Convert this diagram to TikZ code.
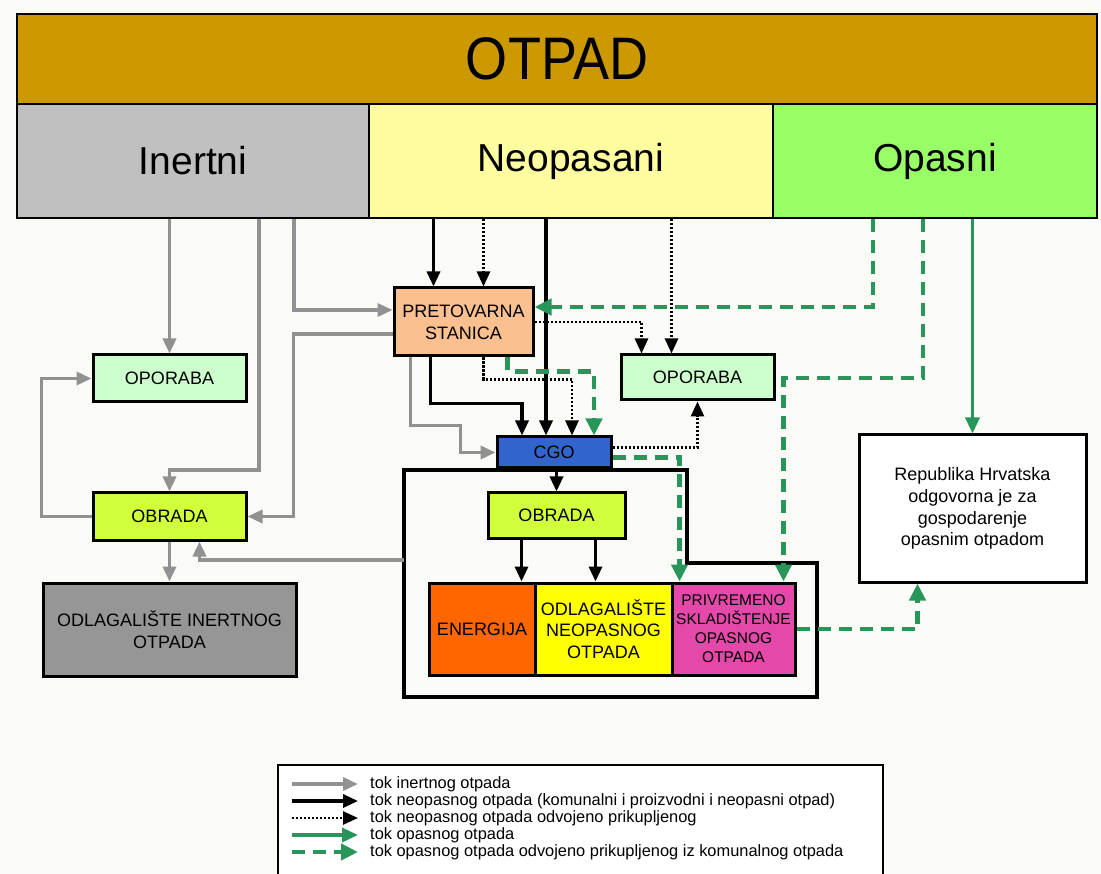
\documentclass[tikz,border=0pt]{standalone}
\usepackage{fontspec}
\setmainfont{Liberation Sans}
\newfontfamily\tallfont[FakeStretch=0.9]{Liberation Sans}
\usepackage{xcolor}
\usetikzlibrary{arrows.meta}
\definecolor{paper}{RGB}{250,251,247}
\definecolor{gold}{RGB}{204,153,0}
\definecolor{inertgray}{RGB}{192,192,192}
\definecolor{neoyellow}{RGB}{255,253,160}
\definecolor{opasgreen}{RGB}{153,255,102}
\definecolor{recgreen}{RGB}{204,255,204}
\definecolor{treatgreen}{RGB}{210,255,60}
\definecolor{stationpeach}{RGB}{250,192,143}
\definecolor{cgoblue}{RGB}{50,100,205}
\definecolor{energyorange}{RGB}{255,102,0}
\definecolor{landfillyellow}{RGB}{255,255,0}
\definecolor{storagepink}{RGB}{228,72,168}
\definecolor{landfillgray}{RGB}{150,150,150}
\definecolor{flowgray}{RGB}{145,145,145}
\definecolor{flowgreen}{RGB}{40,150,90}

\begin{document}
\begin{tikzpicture}[x=1pt, y=-1pt,
  head/.style={rectangle, draw, line width=2.5pt, inner sep=0pt},
  box/.style={rectangle, draw, line width=3pt, inner sep=0pt, align=center, font=\fontsize{18}{21.7}\selectfont},
  key/.style={anchor=west, inner sep=0pt, font=\fontsize{16.4}{18}\selectfont},
  inert/.style={draw=flowgray, line width=3.5pt, -{Triangle[length=15pt,width=13pt]}},
  neop/.style={draw=black, line width=3.2pt, -{Triangle[length=15pt,width=13pt]}},
  neopsep/.style={neop, line width=2.6pt, dash pattern=on 2.2pt off 1.8pt},
  opas/.style={draw=flowgreen, line width=3.5pt, -{Triangle[length=16pt,width=14pt]}},
  opassep/.style={opas, line width=4.5pt, dash pattern=on 13pt off 8pt, -{Triangle[length=17pt,width=16pt]}}]

\useasboundingbox (0,0) rectangle (1101,874);
\clip (0,0) rectangle (1101,874);
\fill[paper] (0,0) rectangle (1101,874);

% header
\node[head, fill=gold, minimum width=1080pt, minimum height=90pt, font=\tallfont\fontsize{60}{66}\selectfont] (otpad) at (557,59) {OTPAD};
\node[head, fill=inertgray, minimum width=352pt, minimum height=114pt, font=\fontsize{39}{44}\selectfont] (inertni) at (193,161) {Inertni};
\node[head, fill=neoyellow, minimum width=404pt, minimum height=114pt, font=\fontsize{39}{44}\selectfont] (neopasani) at (571,161) {Neopasani};
\node[head, fill=opasgreen, minimum width=324pt, minimum height=114pt, font=\fontsize{39}{44}\selectfont] (opasni) at (935,161) {Opasni};

% the centre's fence
\draw[line width=4pt] (404,470) -- (687,470) -- (687,563) -- (817,563) -- (817,697) -- (404,697) -- cycle;
\coordinate (fenceW) at (404,560);

% left column
\node[box, fill=recgreen, minimum width=153pt, minimum height=47pt] (oporabaA) at (169.5,378.5) {OPORABA};
\node[box, fill=treatgreen, minimum width=153pt, minimum height=47pt] (obradaA) at (169.5,516.5) {OBRADA};
\node[box, fill=landfillgray, minimum width=253pt, minimum height=93pt] (odlagInert) at (169.5,629.5) {ODLAGALIŠTE INERTNOG\\OTPADA};

% middle
\node[box, fill=stationpeach, minimum width=139pt, minimum height=68pt] (pretovarna) at (463.5,322) {PRETOVARNA\\STANICA};
\node[box, fill=recgreen, minimum width=153pt, minimum height=45pt] (oporabaB) at (697.5,377.5) {OPORABA};
\node[box, fill=cgoblue, minimum width=114pt, minimum height=31pt] (cgo) at (554,452.5) {CGO};
\node[box, fill=treatgreen, minimum width=137pt, minimum height=45pt] (obradaB) at (556.5,515.5) {OBRADA};
\node[box, fill=energyorange, minimum width=106pt, minimum height=92pt] (energija) at (482,629) {ENERGIJA};
\node[box, fill=landfillyellow, minimum width=137pt, minimum height=92pt] (odlagNeop) at (603.5,629) {ODLAGALIŠTE\\NEOPASNOG\\OTPADA};
\node[box, fill=storagepink, minimum width=123pt, minimum height=92pt, font=\fontsize{15.5}{19}\selectfont] (privremeno) at (733.5,629) {PRIVREMENO\\SKLADIŠTENJE\\OPASNOG\\OTPADA};

% right
\node[box, fill=white, minimum width=227pt, minimum height=147pt] (republika) at (972.5,508.5) {Republika Hrvatska\\odgovorna je za\\gospodarenje\\opasnim otpadom};

% inert flows
\draw[inert] (oporabaA.north |- inertni.south) -- (oporabaA.north);
\draw[inert] ([xshift=66pt]inertni.south) -- ++(0,251) -| (obradaA.north);
\draw[inert] ([xshift=101pt]inertni.south) |- ([yshift=12pt]pretovarna.west);
\draw[inert] ([yshift=-12pt]pretovarna.west) -- ++(-99,0) |- (obradaA.east);
\draw[inert] (obradaA.west) -- ++(-50,0) |- (oporabaA.west);
\draw[inert] (obradaA) -- (odlagInert);
\draw[inert] (fenceW) -| ([xshift=30pt]obradaA.south);
\draw[inert] ([xshift=-53pt]pretovarna.south) -- ++(0,68) -- ++(50,0) |- (cgo.west);

% non-hazardous flows
\draw[neop] ([xshift=-30pt]pretovarna.north |- neopasani.south) -- ([xshift=-30pt]pretovarna.north);
\draw[neopsep] ([xshift=20pt]pretovarna.north |- neopasani.south) -- ([xshift=20pt]pretovarna.north);
\draw[neop] ([xshift=-8pt]cgo.north |- neopasani.south) -- ([xshift=-8pt]cgo.north);
\draw[neopsep] ([xshift=-26pt]oporabaB.north |- neopasani.south) -- ([xshift=-26pt]oporabaB.north);
\draw[neop] ([xshift=-33pt]pretovarna.south) -- ++(0,46) -| ([xshift=-32pt]cgo.north);
\draw[neopsep] ([xshift=20pt]pretovarna.south) -- ++(0,22) -| ([xshift=18pt]cgo.north);
\draw[neopsep] (pretovarna.east) -| ([xshift=-56pt]oporabaB.north);
\draw[neopsep] ([yshift=5pt]cgo.east) -| (oporabaB.south);
\draw[neop] (cgo.south -| obradaB.north) -- (obradaB.north);
\draw[neop] ([xshift=-35pt]obradaB.south) -- ([xshift=-35pt]obradaB.south |- energija.north);
\draw[neop] ([xshift=39pt]obradaB.south) -- ([xshift=39pt]obradaB.south |- odlagNeop.north);

% hazardous flows
\draw[opassep] ([xshift=44pt]pretovarna.south) -- ++(0,14) -| ([xshift=40pt]cgo.north);
\draw[opassep] ([yshift=-5pt]cgo.east) -| ([xshift=-54pt]privremeno.north);
\draw[opassep] ([xshift=-62pt]opasni.south) |- ([yshift=15pt]pretovarna.east);
\draw[opassep] ([xshift=-12pt]opasni.south) -- ++(0,159) -| ([xshift=50pt]privremeno.north);
\draw[opas] (republika.north |- opasni.south) -- (republika.north);
\draw[opassep] (privremeno.east) -| ([xshift=-55pt]republika.south);

% legend
\draw[line width=2.5pt, fill=white] (278,765) rectangle (883,900);
\coordinate (k1) at (292,784);
\coordinate (k2) at (292,801);
\coordinate (k3) at (292,818);
\coordinate (k4) at (292,835);
\coordinate (k5) at (292,852);
\node[key] (t1) at (370,784) {tok inertnog otpada};
\node[key] (t2) at (370,801) {tok neopasnog otpada (komunalni i proizvodni i neopasni otpad)};
\node[key] (t3) at (370,818) {tok neopasnog otpada odvojeno prikupljenog};
\node[key] (t4) at (370,835) {tok opasnog otpada};
\node[key] (t5) at (370,852) {tok opasnog otpada odvojeno prikupljenog iz komunalnog otpada};
\draw[inert] (k1) -- ([xshift=-12pt]t1.west);
\draw[neop] (k2) -- ([xshift=-12pt]t2.west);
\draw[neopsep] (k3) -- ([xshift=-12pt]t3.west);
\draw[opas] (k4) -- ([xshift=-12pt]t4.west);
\draw[opassep] (k5) -- ([xshift=-12pt]t5.west);
\end{tikzpicture}
\end{document}
